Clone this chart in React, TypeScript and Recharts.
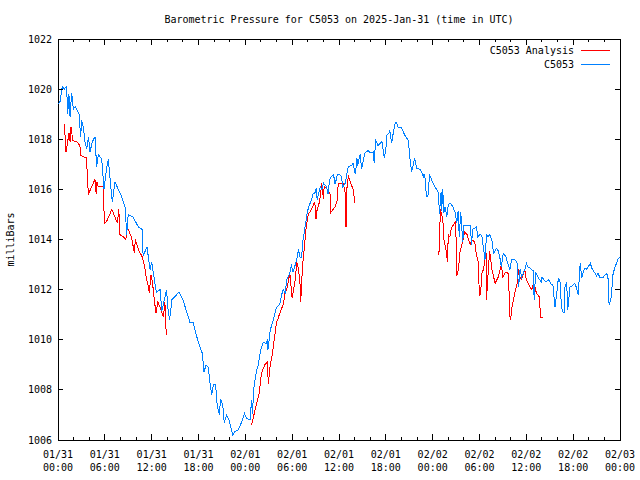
import { LineChart, Line, XAxis, YAxis, ReferenceArea, Legend } from "recharts"

// hours since 2025-01-31 00:00 UTC, pressure in mb
const c5053: [number, number][] = [
  [0.0, 1019.4], [0.26, 1019.5], [0.55, 1020.1], [0.8, 1020.0], [1.1, 1020.1], [1.24, 1019.0], [1.4, 1019.8],
  [1.54, 1018.9], [1.75, 1019.85], [1.96, 1019.2], [2.2, 1019.3], [2.4, 1019.2], [2.7, 1019.0], [2.9, 1018.1],
  [3.03, 1018.75], [3.24, 1018.5], [3.46, 1017.9], [3.67, 1017.6], [3.9, 1018.1], [4.1, 1017.5], [4.4, 1017.9],
  [4.74, 1018.1], [4.95, 1016.9], [5.17, 1017.4], [5.6, 1017.2], [5.9, 1016.0], [6.2, 1016.8], [6.45, 1017.2],
  [6.8, 1016.0], [6.96, 1015.5], [7.3, 1016.3], [7.73, 1016.0], [8.16, 1015.7], [8.6, 1015.3], [8.8, 1014.2],
  [9.0, 1015.0], [9.6, 1014.9], [10.3, 1014.5], [10.8, 1014.4], [10.9, 1013.35], [11.4, 1013.7], [11.8, 1012.8],
  [12.0, 1013.1], [12.4, 1012.3], [12.6, 1011.9], [13.07, 1012.0], [13.3, 1011.15], [13.7, 1011.7], [13.9, 1012.0],
  [14.1, 1011.2], [14.3, 1010.8], [14.6, 1011.6], [15.2, 1011.8], [15.5, 1011.9], [16.0, 1011.6], [16.5, 1011.1],
  [16.9, 1010.7], [17.3, 1010.7], [17.8, 1010.1], [18.2, 1009.7], [18.5, 1009.45], [18.7, 1008.7], [18.96, 1009.0],
  [19.26, 1008.9], [19.5, 1008.2], [19.7, 1007.8], [19.9, 1008.2], [20.2, 1008.2], [20.4, 1007.35], [20.7, 1007.0],
  [20.8, 1007.65], [21.1, 1007.4], [21.3, 1006.7], [21.6, 1007.0], [21.9, 1006.8], [22.4, 1006.2], [22.7, 1006.35],
  [23.1, 1006.4], [23.5, 1006.7], [23.9, 1007.05], [24.2, 1006.85], [24.6, 1006.8], [24.8, 1007.6], [24.9, 1007.05],
  [25.1, 1008.1], [25.45, 1008.8], [25.66, 1009.0], [25.97, 1009.6], [26.1, 1009.7], [26.3, 1009.9], [26.65, 1009.85],
  [26.8, 1009.95], [26.9, 1009.6], [27.2, 1010.4], [27.6, 1010.8], [28.0, 1011.3], [28.4, 1011.4], [28.65, 1011.8],
  [28.86, 1012.0], [29.1, 1011.85], [29.3, 1012.4], [29.7, 1012.65], [29.9, 1013.0], [30.1, 1012.7], [30.4, 1013.0],
  [30.6, 1013.2], [30.8, 1013.6], [31.0, 1013.3], [31.2, 1013.3], [31.4, 1014.0], [31.6, 1014.4], [31.9, 1015.0],
  [32.1, 1015.3], [32.5, 1015.6], [32.7, 1015.85], [32.9, 1015.85], [33.1, 1016.05], [33.2, 1015.6], [33.6, 1016.1],
  [33.8, 1016.0], [34.0, 1016.25], [34.4, 1016.1], [34.6, 1015.8], [34.8, 1016.4], [35.0, 1016.5], [35.3, 1016.6],
  [35.5, 1016.2], [35.8, 1016.6], [36.1, 1016.6], [36.3, 1016.5], [36.5, 1016.1], [36.8, 1016.25], [37.1, 1016.8],
  [37.2, 1016.9], [37.6, 1016.95], [37.8, 1017.05], [38.1, 1016.6], [38.3, 1017.25], [38.4, 1016.95], [38.7, 1017.4],
  [38.9, 1016.8], [39.3, 1017.45], [39.75, 1017.55], [40.0, 1017.45], [40.4, 1017.5], [40.5, 1017.05], [40.7, 1017.95],
  [41.0, 1017.75], [41.3, 1017.85], [41.5, 1017.9], [41.8, 1017.25], [42.0, 1017.55], [42.1, 1018.15], [42.4, 1018.25],
  [42.5, 1018.35], [42.75, 1017.85], [42.95, 1018.25], [43.2, 1018.65], [43.4, 1018.65], [43.6, 1018.45], [44.0, 1018.45],
  [44.45, 1018.15], [44.9, 1017.95], [45.0, 1017.5], [45.2, 1016.95], [45.3, 1016.7], [45.5, 1016.95], [45.7, 1017.25],
  [45.95, 1016.85], [46.4, 1016.8], [46.6, 1016.7], [46.8, 1016.5], [46.9, 1016.6], [47.0, 1016.55], [47.2, 1015.7],
  [47.4, 1015.75], [47.6, 1016.6], [47.9, 1016.35], [48.3, 1016.1], [48.7, 1015.9], [48.85, 1015.2], [48.9, 1015.0],
  [49.0, 1015.8], [49.1, 1015.9], [49.15, 1015.15], [49.3, 1016.0], [49.4, 1015.05], [49.6, 1015.3], [49.8, 1014.9],
  [50.0, 1015.4], [50.2, 1015.45], [50.4, 1015.4], [50.6, 1015.3], [50.9, 1015.05], [51.1, 1014.65], [51.2, 1015.05],
  [51.3, 1015.1], [51.4, 1014.1], [51.6, 1015.1], [51.85, 1013.9], [52.0, 1014.55], [52.35, 1014.55], [52.8, 1014.55],
  [53.0, 1013.8], [53.1, 1014.4], [53.6, 1014.5], [53.8, 1014.1], [54.06, 1014.2], [54.3, 1014.15], [54.7, 1013.2],
  [54.9, 1014.2], [55.1, 1014.1], [55.3, 1014.2], [55.6, 1013.95], [55.8, 1013.45], [56.0, 1013.55], [56.2, 1013.65],
  [56.4, 1013.55], [56.6, 1013.3], [56.8, 1012.9], [57.05, 1013.45], [57.4, 1013.3], [57.56, 1013.1], [57.9, 1012.8],
  [58.1, 1013.2], [58.5, 1013.2], [58.8, 1013.1], [59.0, 1012.1], [59.2, 1012.8], [59.4, 1012.5], [59.8, 1012.8],
  [60.0, 1013.05], [60.2, 1012.9], [60.5, 1012.85], [60.9, 1012.75], [61.0, 1011.6], [61.2, 1012.7], [61.5, 1012.5],
  [61.9, 1012.3], [62.0, 1012.5], [62.5, 1012.3], [62.9, 1012.4], [63.2, 1012.2], [63.4, 1012.2], [63.67, 1011.3],
  [63.9, 1011.85], [64.1, 1012.45], [64.3, 1012.4], [64.5, 1011.3], [64.7, 1011.1], [64.9, 1011.1], [64.95, 1012.1],
  [65.17, 1012.3], [65.3, 1011.2], [65.6, 1012.1], [65.9, 1012.15], [66.2, 1012.25], [66.4, 1012.1], [66.65, 1011.8],
  [66.9, 1013.05], [67.1, 1012.45], [67.3, 1012.7], [67.5, 1012.85], [67.7, 1012.8], [67.9, 1012.9], [68.2, 1013.05],
  [68.4, 1012.85], [68.8, 1012.65], [69.0, 1012.55], [69.2, 1012.65], [69.4, 1012.5], [69.85, 1012.5], [70.0, 1012.55],
  [70.3, 1012.65], [70.5, 1012.4], [70.6, 1011.4], [70.8, 1011.55], [70.9, 1011.8], [71.1, 1012.6], [71.3, 1012.85],
  [71.55, 1013.05], [71.7, 1013.2], [72.0, 1013.3],
]

// analysis runs, three separate pieces
const analysisDay1: [number, number][] = [
  [0.8, 1018.6], [0.9, 1018.15], [1.03, 1017.5], [1.2, 1017.8], [1.4, 1018.25], [1.55, 1017.9], [1.66, 1018.5],
  [1.9, 1017.95], [2.4, 1017.9], [2.8, 1017.75], [2.95, 1017.35], [3.2, 1017.3], [3.67, 1017.25], [3.75, 1016.5],
  [3.9, 1015.8], [4.3, 1016.1], [4.74, 1016.4], [4.9, 1015.8], [5.0, 1016.3], [5.17, 1016.1], [5.8, 1016.1],
  [5.94, 1014.65], [6.2, 1014.7], [6.9, 1015.2], [7.3, 1014.9], [7.6, 1014.65], [7.8, 1015.2], [7.9, 1014.2],
  [8.4, 1014.1], [8.7, 1014.0], [8.8, 1014.5], [9.0, 1014.4], [9.4, 1014.1], [9.8, 1013.45], [9.9, 1014.0],
  [10.3, 1013.6], [10.8, 1013.3], [11.1, 1012.9], [11.36, 1012.4], [11.6, 1012.1], [11.7, 1011.85], [11.9, 1012.6],
  [12.1, 1012.3], [12.3, 1011.7], [12.55, 1011.05], [12.8, 1011.5], [13.2, 1011.2], [13.5, 1010.9], [13.7, 1011.5],
  [13.8, 1010.5], [13.95, 1010.2],
]

const analysisDay2: [number, number][] = [
  [24.8, 1006.6], [25.1, 1007.0], [25.45, 1007.45], [25.8, 1007.9], [25.95, 1008.4], [26.1, 1008.7], [26.5, 1009.0],
  [26.8, 1009.1], [26.95, 1008.25], [27.1, 1008.7], [27.2, 1009.05], [27.4, 1009.3], [27.7, 1010.0], [28.0, 1010.7],
  [28.2, 1010.85], [28.4, 1011.05], [28.9, 1011.45], [29.1, 1011.9], [29.3, 1012.0], [29.7, 1012.65], [30.0, 1011.65],
  [30.4, 1012.4], [30.6, 1013.1], [30.8, 1012.85], [31.0, 1012.25], [31.1, 1011.5], [31.2, 1012.25], [31.4, 1013.2],
  [31.6, 1013.8], [31.8, 1014.5], [32.1, 1015.05], [32.3, 1015.1], [32.6, 1015.3], [32.9, 1015.5], [33.05, 1014.8],
  [33.2, 1015.2], [33.5, 1015.5], [33.65, 1015.85], [33.8, 1016.25], [34.0, 1015.6], [34.1, 1016.1], [34.4, 1016.05],
  [34.85, 1015.8], [34.9, 1015.05], [35.0, 1015.1], [35.5, 1015.3], [35.8, 1015.6], [35.9, 1016.25], [36.1, 1016.25],
  [36.55, 1016.25], [36.8, 1015.85], [36.9, 1014.5], [37.0, 1016.0], [37.2, 1016.55], [37.4, 1016.35], [37.8, 1016.0],
  [38.05, 1015.45],
]

const analysisDay3: [number, number][] = [
  [48.8, 1013.4], [48.85, 1013.9], [49.0, 1015.2], [49.15, 1015.0], [49.3, 1014.8], [49.45, 1014.0], [49.7, 1013.6],
  [49.9, 1013.1], [50.0, 1014.2], [50.2, 1014.1], [50.4, 1014.45], [50.9, 1014.7], [51.05, 1013.7], [51.1, 1012.55],
  [51.3, 1012.8], [51.5, 1013.5], [51.9, 1014.0], [52.1, 1014.3], [52.4, 1014.2], [52.8, 1013.8], [53.0, 1014.0],
  [53.4, 1013.9], [53.6, 1013.4], [53.8, 1013.2], [54.0, 1011.75], [54.15, 1011.85], [54.3, 1012.65], [54.5, 1012.8],
  [54.7, 1013.2], [54.83, 1013.6], [54.9, 1011.6], [55.1, 1012.65], [55.3, 1013.55], [55.6, 1012.8], [56.0, 1012.25],
  [56.4, 1012.5], [56.8, 1013.0], [57.0, 1012.5], [57.3, 1012.7], [57.7, 1012.65], [57.9, 1010.9], [58.0, 1010.8],
  [58.1, 1011.2], [58.5, 1011.85], [58.8, 1012.2], [59.0, 1012.8], [59.2, 1012.5], [59.4, 1012.4], [59.8, 1012.8],
  [60.0, 1012.4], [60.5, 1012.1], [60.7, 1012.0], [60.9, 1012.25], [61.1, 1012.1], [61.3, 1011.85], [61.7, 1011.7],
  [61.8, 1010.9], [62.1, 1010.9],
]

const hourTicks = [0, 2, 4, 6, 8, 10, 12, 14, 16, 18, 20, 22, 24, 26, 28, 30, 32, 34, 36, 38, 40, 42, 44, 46, 48, 50, 52, 54, 56, 58, 60, 62, 64, 66, 68, 70, 72]
const dayLabels = ["01/31", "01/31", "01/31", "01/31", "02/01", "02/01", "02/01", "02/01", "02/02", "02/02", "02/02", "02/02", "02/03"]
const timeLabels = ["00:00", "06:00", "12:00", "18:00", "00:00", "06:00", "12:00", "18:00", "00:00", "06:00", "12:00", "18:00", "00:00"]
const mbTicks = [1006, 1008, 1010, 1012, 1014, 1016, 1018, 1020, 1022]

const RED = "#ff0000"
const BLUE = "#0080ff"
const FONT = "'DejaVu Sans Mono', monospace"
const PLOT_W = 562
const PLOT_H = 401

const toRows = (pts: [number, number][]) => pts.map(([t, v]) => ({ t, v }))

const XTick = (props: any) => {
  const { x, y, payload } = props
  const major = payload.value % 6 === 0
  const len = major ? 6 : 3
  const i = payload.value / 6
  return (
    <g shapeRendering="crispEdges">
      <line x1={x} y1={y} x2={x} y2={y - len} stroke="#000" />
      <line x1={x} y1={y - PLOT_H} x2={x} y2={y - PLOT_H + len} stroke="#000" />
      {major && (
        <text x={x} textAnchor="middle" fontFamily={FONT} fontSize={10} fill="#000">
          <tspan x={x} y={y + 17.5}>{dayLabels[i]}</tspan>
          <tspan x={x} y={y + 31}>{timeLabels[i]}</tspan>
        </text>
      )}
    </g>
  )
}

const YTick = (props: any) => {
  const { x, y, payload } = props
  return (
    <g shapeRendering="crispEdges">
      <line x1={x} y1={y} x2={x + 5} y2={y} stroke="#000" />
      <line x1={x + PLOT_W} y1={y} x2={x + PLOT_W - 5} y2={y} stroke="#000" />
      <text x={x - 6} y={y + 3.5} textAnchor="end" fontFamily={FONT} fontSize={10} fill="#000">
        {payload.value}
      </text>
    </g>
  )
}

const LegendBox = () => (
  <div style={{ fontFamily: FONT, fontSize: 10, color: "#000" }}>
    {[["C5053 Analysis", RED], ["C5053", BLUE]].map(([name, col]) => (
      <div key={name} style={{ display: "flex", justifyContent: "flex-end", alignItems: "center", height: 13.5 }}>
        <span>{name}</span>
        <svg width={29} height={3} style={{ marginLeft: 7 }}>
          <line x1={0} y1={1.5} x2={29} y2={1.5} stroke={col} strokeWidth={1} />
        </svg>
      </div>
    ))}
  </div>
)

export default function App() {
  return (
    <div style={{ position: "absolute", left: 0, top: 0, width: 640, height: 480, background: "#fff" }}>
      <LineChart width={640} height={480} margin={{ top: 39, right: 20, bottom: 0, left: 0 }}>
        <XAxis
          dataKey="t"
          type="number"
          domain={[0, 72]}
          ticks={hourTicks}
          interval={0}
          height={40}
          tickSize={0}
          tickMargin={0}
          tick={<XTick />}
          axisLine={false}
          allowDataOverflow
        />
        <YAxis
          type="number"
          domain={[1006, 1022]}
          ticks={mbTicks}
          interval={0}
          width={58}
          tickSize={0}
          tickMargin={0}
          tick={<YTick />}
          axisLine={false}
          allowDataOverflow
          label={{
            content: (p: any) => {
              const cx = 10
              const cy = p.viewBox.y + p.viewBox.height / 2
              return (
                <text x={cx} y={cy} transform={`rotate(-90, ${cx}, ${cy})`} textAnchor="middle" dominantBaseline="central" fontFamily={FONT} fontSize={10} fill="#000">
                  milliBars
                </text>
              )
            },
          }}
        />
        <Legend
          layout="vertical"
          align="center"
          verticalAlign="middle"
          content={<LegendBox />}
          wrapperStyle={{ top: 44, right: 30, left: "auto", width: "auto", height: "auto" }}
        />
        <Line data={toRows(analysisDay1)} dataKey="v" stroke={RED} strokeWidth={1} dot={false} isAnimationActive={false} shapeRendering="crispEdges" />
        <Line data={toRows(analysisDay2)} dataKey="v" stroke={RED} strokeWidth={1} dot={false} isAnimationActive={false} legendType="none" shapeRendering="crispEdges" />
        <Line data={toRows(analysisDay3)} dataKey="v" stroke={RED} strokeWidth={1} dot={false} isAnimationActive={false} legendType="none" shapeRendering="crispEdges" />
        <Line data={toRows(c5053)} dataKey="v" stroke={BLUE} strokeWidth={1} dot={false} isAnimationActive={false} shapeRendering="crispEdges" />
        <ReferenceArea
          x1={0}
          x2={72}
          y1={1006}
          y2={1022}
          fill="none"
          stroke="#000"
          strokeWidth={1}
          fillOpacity={0}
          shapeRendering="crispEdges"
          label={{
            content: (p: any) => (
              <text x={p.viewBox.x + p.viewBox.width / 2} y={p.viewBox.y - 16} textAnchor="middle" fontFamily={FONT} fontSize={10} fill="#000">
                Barometric Pressure for C5053 on 2025-Jan-31 (time in UTC)
              </text>
            ),
          }}
        />
      </LineChart>
    </div>
  )
}
